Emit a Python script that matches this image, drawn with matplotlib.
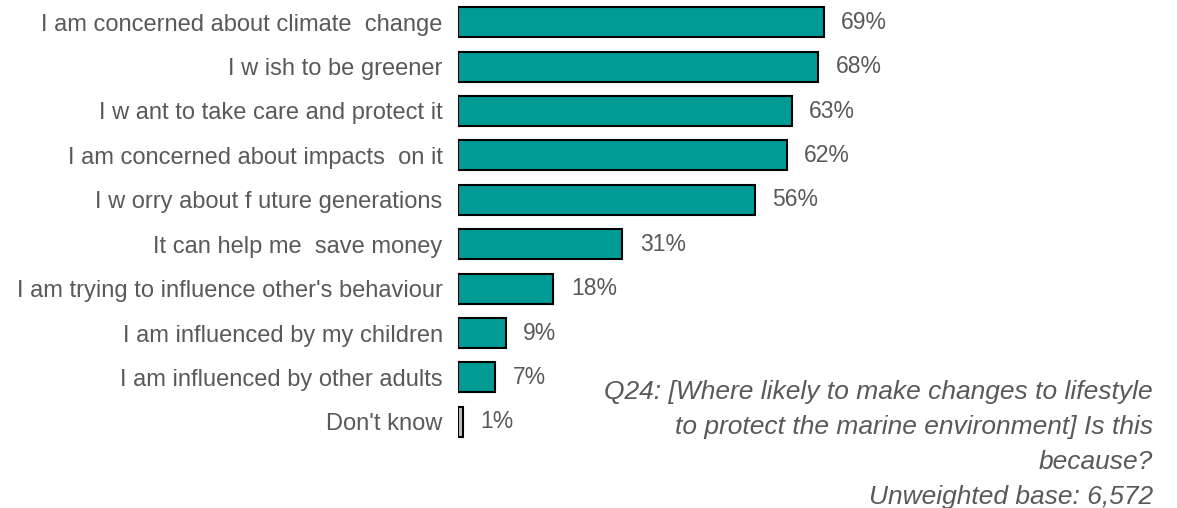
import matplotlib
matplotlib.use("Agg")
import matplotlib.pyplot as plt

categories = [
    "I am concerned about climate  change",
    "I w ish to be greener",
    "I w ant to take care and protect it",
    "I am concerned about impacts  on it",
    "I w orry about f uture generations",
    "It can help me  save money",
    "I am trying to influence other's behaviour",
    "I am influenced by my children",
    "I am influenced by other adults",
    "Don't know",
]
values = [69, 68, 63, 62, 56, 31, 18, 9, 7, 1]
bar_colors = ["#009B95"] * 9 + ["#BFBFBF"]
note_lines = [
    "Q24: [Where likely to make changes to lifestyle",
    "to protect the marine environment] Is this",
    "because?",
    "Unweighted base: 6,572",
]

text_color = "#595959"
plt.rcParams["font.family"] = ["Liberation Sans", "DejaVu Sans"]

fig = plt.figure(figsize=(11.77, 5.08), dpi=100)
ax = fig.add_axes([458 / 1177, 64 / 508, 700 / 1177, 444 / 508])

y = list(range(len(categories)))
ax.barh(y, values, height=0.68, color=bar_colors, edgecolor="black", linewidth=1.5)
ax.set_ylim(len(categories) - 0.5, -0.5)
ax.set_xlim(0, 700 / 5.3)
ax.set_yticks(y)
ax.set_yticklabels(categories, fontsize=17, color=text_color)
ax.tick_params(axis="y", length=0, pad=11)
ax.set_xticks([])
for s in ax.spines.values():
    s.set_visible(False)

for yi, v in zip(y, values):
    ax.annotate(f"{v}%", xy=(v, yi), xytext=(12.5, 0), textcoords="offset points",
                va="center", ha="left", fontsize=16.5, color=text_color)

for i, line in enumerate(note_lines):
    fig.text(1153 / 1177, 1 - (392 + i * 35) / 508, line, ha="right", va="center",
             fontsize=19, style="italic", color=text_color)

fig.savefig("out.png", dpi=100)
